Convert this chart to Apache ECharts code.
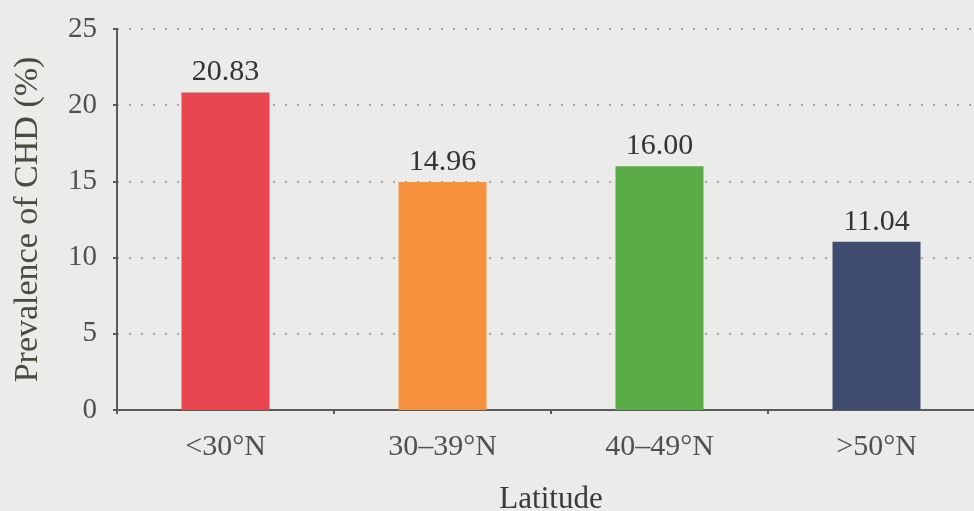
<!DOCTYPE html>
<html>
<head>
<meta charset="utf-8">
<script src="https://cdn.jsdelivr.net/npm/echarts@6/dist/echarts.min.js"></script>
<style>
  html, body { margin: 0; padding: 0; background: #ebebea; }
  #chart { width: 974px; height: 511px; }
</style>
</head>
<body>
<div id="chart"></div>
<script>
// Prevalence of CHD by latitude band
const categories = ['<30°N', '30–39°N', '40–49°N', '>50°N'];
const prevalence = [20.83, 14.96, 16.00, 11.04];
const barColors = ['#e8454f', '#f6913e', '#5aac47', '#3f4b6f'];
const yTicks = [0, 5, 10, 15, 20, 25];

const serif = '"Liberation Serif", "Times New Roman", serif';

const chart = echarts.init(document.getElementById('chart'), null, { renderer: 'canvas' });

chart.setOption({
  backgroundColor: '#ebebea',
  animation: false,
  grid: { left: 117, top: 29, width: 868, height: 381, containLabel: false, outerBoundsMode: 'none' },
  xAxis: {
    type: 'category',
    data: categories,
    name: 'Latitude',
    nameLocation: 'middle',
    nameGap: 74,
    nameTextStyle: { fontFamily: serif, fontSize: 31, color: '#3a3a3a' },
    axisLine: { lineStyle: { color: '#5a5a5a', width: 2 } },
    axisTick: { show: true, length: 4, alignWithLabel: false, lineStyle: { color: '#5a5a5a', width: 2 } },
    axisLabel: { fontFamily: serif, fontSize: 30, color: '#505050', margin: 22 }
  },
  yAxis: {
    type: 'value',
    min: yTicks[0],
    max: yTicks[yTicks.length - 1],
    interval: yTicks[1] - yTicks[0],
    name: 'Prevalence of CHD (%)',
    nameLocation: 'middle',
    nameGap: 72,
    nameTextStyle: { fontFamily: serif, fontSize: 34, color: '#4a4a3e' },
    axisLine: { show: true, lineStyle: { color: '#5a5a5a', width: 2 } },
    axisTick: { show: true, length: 4, lineStyle: { color: '#5a5a5a', width: 2 } },
    axisLabel: { fontFamily: serif, fontSize: 29, color: '#505050', margin: 20 },
    splitLine: { show: true, lineStyle: { color: '#a8a8a8', width: 2, type: [2, 10] } }
  },
  series: [{
    type: 'bar',
    barWidth: 88,
    data: prevalence.map((v, i) => ({ value: v, itemStyle: { color: barColors[i] } })),
    label: {
      show: true,
      position: 'top',
      distance: 5,
      fontFamily: serif,
      fontSize: 30,
      color: '#333333',
      formatter: p => p.value.toFixed(2)
    }
  }]
});
</script>
</body>
</html>
